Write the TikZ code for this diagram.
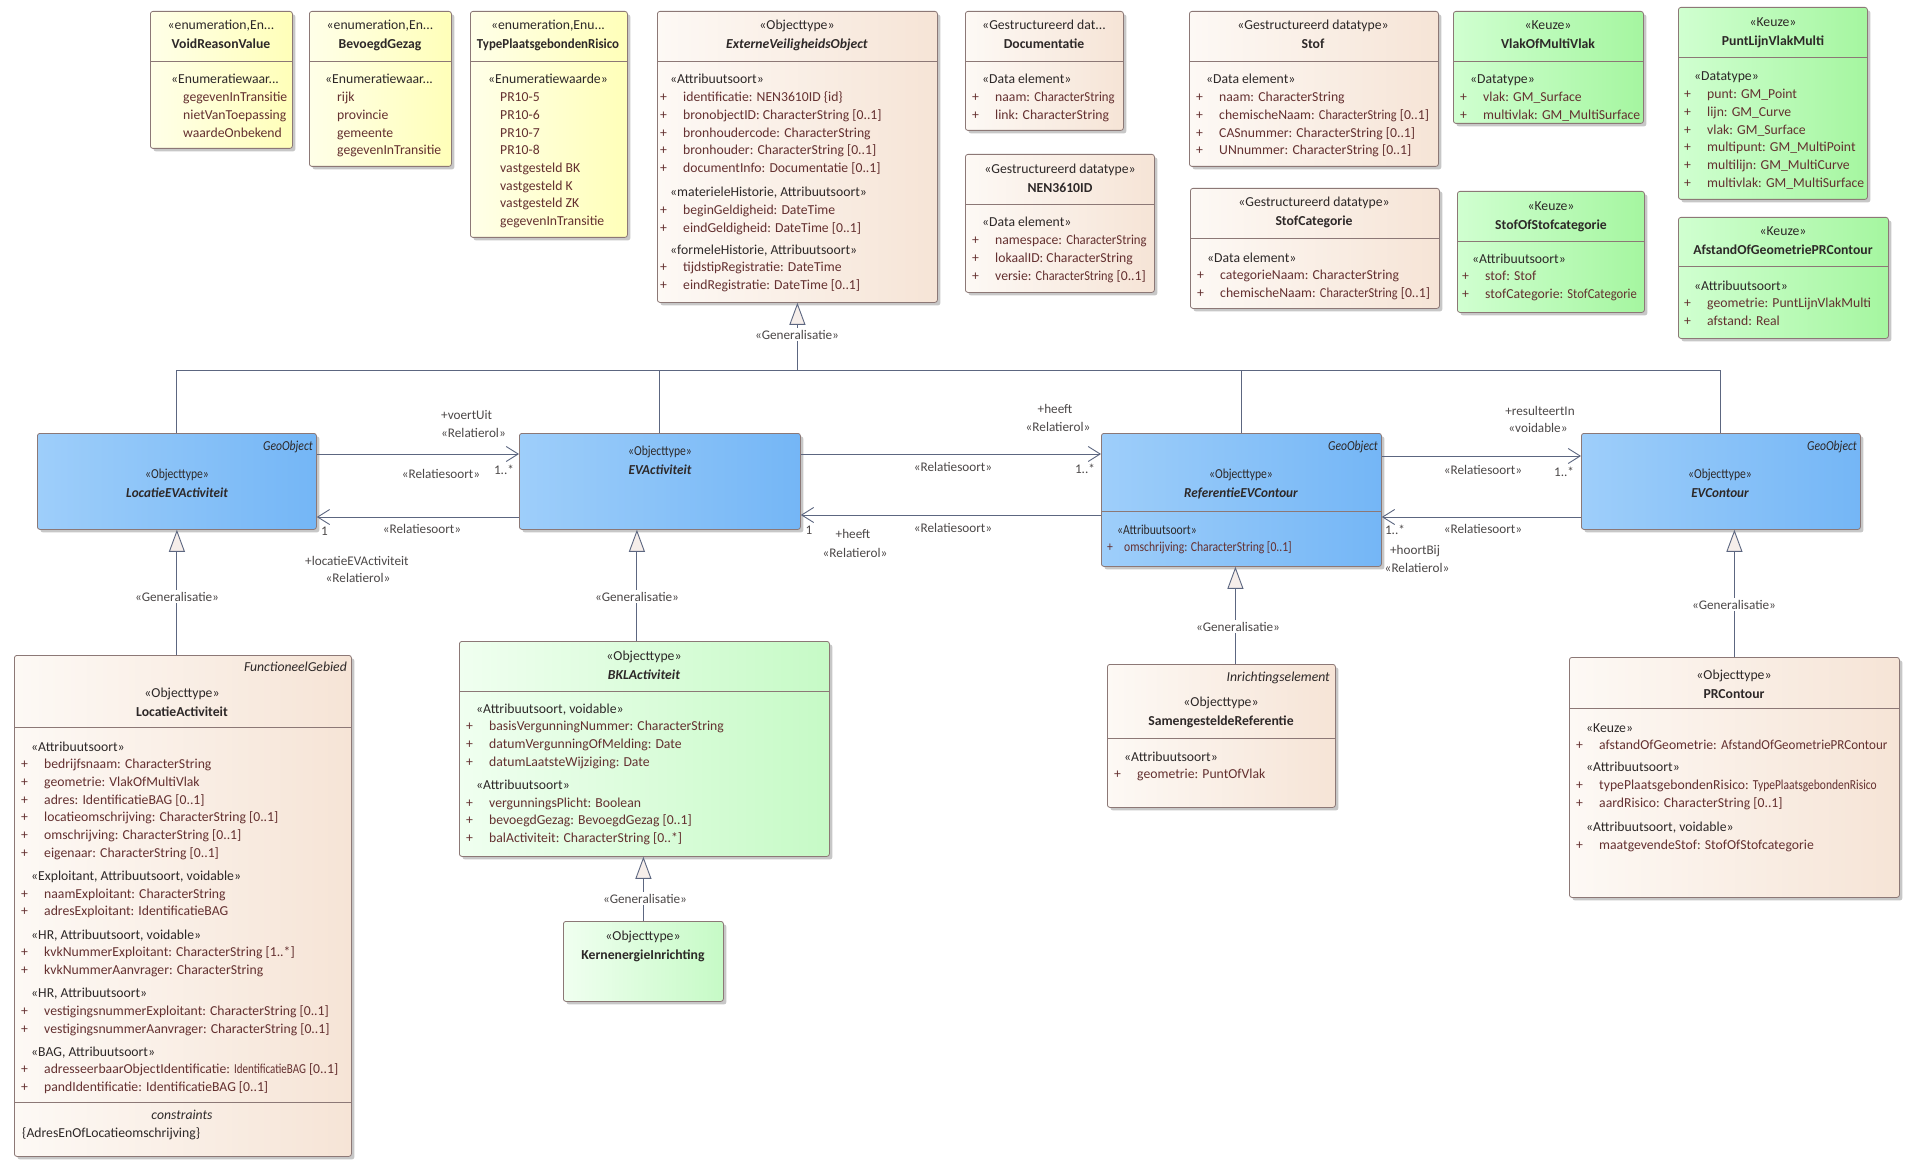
\documentclass[tikz,border=0pt]{standalone}
\usepackage{fontspec}
\setmainfont{Carlito}
\newfontfamily\narrowfont{Carlito}[FakeStretch=0.85]
\newfontfamily\semifont{Carlito}[FakeStretch=0.96]
\usepackage{tikz}
\usetikzlibrary{arrows.meta, positioning, calc, shadows}
\definecolor{umlborder}{RGB}{140,120,118}
\definecolor{umlline}{RGB}{92,102,128}
\definecolor{umltext}{RGB}{45,40,40}
\definecolor{umlattr}{RGB}{100,48,48}
\definecolor{beigeL}{RGB}{253,249,245}
\definecolor{beigeR}{RGB}{246,228,214}
\definecolor{yellowL}{RGB}{255,255,232}
\definecolor{yellowR}{RGB}{255,255,185}
\definecolor{greenL}{RGB}{208,255,208}
\definecolor{greenR}{RGB}{165,246,160}
\definecolor{paleL}{RGB}{240,255,240}
\definecolor{paleR}{RGB}{198,250,198}
\definecolor{blueL}{RGB}{158,206,250}
\definecolor{blueR}{RGB}{116,182,246}
\definecolor{genfill}{RGB}{246,238,234}

\newcommand{\umlfont}{\fontsize{13.7}{17.7}\selectfont}
\newcommand{\lblfont}{\fontsize{13.2}{16}\selectfont}
\newcommand{\classtitle}[2]{\begin{tabular}[t]{@{}c@{}}#1\\[1.3pt]\textbf{#2}\end{tabular}}
\newcommand{\classtitleit}[2]{\begin{tabular}[t]{@{}c@{}}#1\\[1.3pt]\textbf{\itshape #2}\end{tabular}}
\newcommand{\bluetitle}[2]{\begin{tabular}[t]{@{}c@{}}#1\\[1.3pt]{\semifont\bfseries\itshape #2}\end{tabular}}
\newcommand{\compartment}[1]{\begin{tabular}[t]{@{}l@{}}#1\end{tabular}}
\newcommand{\stereo}[1]{\hspace*{10pt}\textcolor{umltext}{#1}}
\newcommand{\attrline}[2][23pt]{\makebox[#1][l]{+}#2}
\newcommand{\enumval}[1]{\hspace*{22pt}#1}
\newcommand{\squeeze}[2]{\scalebox{#1}[1]{#2}}
\newcommand{\umlbox}[6]{\node[#2, minimum width={(#5-#3)*1pt}, minimum height={(#6-#4)*1pt}] (#1) at (#3,#4) {};}
\newcommand{\compsep}[2]{\draw[sepline] (#1.west |- 0,#2) -- (#1.east |- 0,#2);}

\begin{document}
\begin{tikzpicture}[x=1pt, y=-1pt,
    box/.style={draw=umlborder, line width=0.8pt, rounded corners=2.5pt, inner sep=0pt, anchor=north west,
        drop shadow={shadow xshift=3pt, shadow yshift=-3pt, opacity=0.22, fill=black}},
    beige/.style={box, left color=beigeL, right color=beigeR},
    yellow/.style={box, left color=yellowL, right color=yellowR},
    green/.style={box, left color=greenL, right color=greenR},
    pale/.style={box, left color=paleL, right color=paleR},
    blue/.style={box, left color=blueL, right color=blueR},
    sepline/.style={draw=umlborder, line width=0.8pt},
    head/.style={anchor=base, inner sep=0pt, text=umltext, font=\umlfont},
    bluehead/.style={head, font=\umlfont\narrowfont},
    tag/.style={anchor=base east, inner sep=0pt, text=umltext, font=\umlfont\itshape},
    attrs/.style={anchor=base west, inner sep=0pt, text=umlattr, font=\umlfont},
    conn/.style={draw=umlline, line width=0.9pt},
    assoc/.style={conn, -{Straight Barb[length=12pt, width=15pt]}},
    genarrow/.style={conn, -{Triangle[length=22pt, width=16pt, fill=genfill]}},
    lbl/.style={anchor=base, inner sep=0pt, text=umltext!85, font=\lblfont},
    genlbl/.style={lbl, fill=white, inner sep=2pt},
]
    \useasboundingbox (0,0) rectangle (1918,1174);
    \fill[white] (0,0) rectangle (1918,1174);

    % enumerations
    \umlbox{voidreason}{yellow}{150}{11}{292}{148}
    \compsep{voidreason}{61}
    \node[head] (voidreason-h) at (221,30) {\classtitle{«enumeration,En...}{VoidReasonValue}};
    \node[attrs] (voidreason-a) at (161,84) {\compartment{\stereo{«Enumeratiewaar...}\\
        \enumval{gegevenInTransitie}\\ \enumval{nietVanToepassing}\\ \enumval{waardeOnbekend}}};

    \umlbox{bevoegd}{yellow}{309}{11}{451}{166}
    \compsep{bevoegd}{61}
    \node[head] (bevoegd-h) at (380,30) {\classtitle{«enumeration,En...}{BevoegdGezag}};
    \node[attrs] (bevoegd-a) at (315,84) {\compartment{\stereo{«Enumeratiewaar...}\\
        \enumval{rijk}\\ \enumval{provincie}\\ \enumval{gemeente}\\ \enumval{gegevenInTransitie}}};

    \umlbox{typepr}{yellow}{470}{11}{627}{237}
    \compsep{typepr}{61}
    \node[head] (typepr-h) at (548,30) {\classtitle{«enumeration,Enu...}{\squeeze{0.94}{TypePlaatsgebondenRisico}}};
    \node[attrs] (typepr-a) at (478,84) {\compartment{\stereo{«Enumeratiewaarde»}\\
        \enumval{PR10-5}\\ \enumval{PR10-6}\\ \enumval{PR10-7}\\ \enumval{PR10-8}\\
        \enumval{vastgesteld BK}\\ \enumval{vastgesteld K}\\ \enumval{vastgesteld ZK}\\ \enumval{gegevenInTransitie}}};

    % abstract top class
    \umlbox{evo}{beige}{657}{11}{937}{302}
    \compsep{evo}{61}
    \node[head] (evo-h) at (797,30) {\classtitleit{«Objecttype»}{ExterneVeiligheidsObject}};
    \node[attrs] (evo-a) at (660,84) {\compartment{\stereo{«Attribuutsoort»}\\
        \attrline{identificatie: NEN3610ID \{id\}}\\
        \attrline{bronobjectID: CharacterString [0..1]}\\
        \attrline{bronhoudercode: CharacterString}\\
        \attrline{bronhouder: CharacterString [0..1]}\\
        \attrline{documentInfo: Documentatie [0..1]}\\[6.5pt]
        \stereo{«materieleHistorie, Attribuutsoort»}\\
        \attrline{beginGeldigheid: DateTime}\\
        \attrline{eindGeldigheid: DateTime [0..1]}\\[4.5pt]
        \stereo{«formeleHistorie, Attribuutsoort»}\\
        \attrline{tijdstipRegistratie: DateTime}\\
        \attrline{eindRegistratie: DateTime [0..1]}}};

    % datatypes
    \umlbox{docu}{beige}{965}{11}{1123}{130}
    \compsep{docu}{61}
    \node[head] (docu-h) at (1044,30) {\classtitle{«Gestructureerd dat...}{Documentatie}};
    \node[attrs] (docu-a) at (972,84) {\compartment{\stereo{«Data element»}\\
        \attrline{naam: \squeeze{0.93}{CharacterString}}\\ \attrline{link: CharacterString}}};

    \umlbox{nenid}{beige}{965}{154}{1154}{292}
    \compsep{nenid}{204}
    \node[head] (nenid-h) at (1060,174) {\classtitle{«Gestructureerd datatype»}{NEN3610ID}};
    \node[attrs] (nenid-a) at (972,227) {\compartment{\stereo{«Data element»}\\
        \attrline{namespace: \squeeze{0.93}{CharacterString}}\\ \attrline{lokaalID: CharacterString}\\
        \attrline{versie: \squeeze{0.9}{CharacterString} [0..1]}}};

    \umlbox{stof}{beige}{1189}{11}{1438}{166}
    \compsep{stof}{61}
    \node[head] (stof-h) at (1313,30) {\classtitle{«Gestructureerd datatype»}{Stof}};
    \node[attrs] (stof-a) at (1196,84) {\compartment{\stereo{«Data element»}\\
        \attrline{naam: CharacterString}\\ \attrline{chemischeNaam: \squeeze{0.9}{CharacterString} [0..1]}\\
        \attrline{CASnummer: CharacterString [0..1]}\\ \attrline{UNnummer: CharacterString [0..1]}}};

    \umlbox{stofcat}{beige}{1190}{188}{1439}{308}
    \compsep{stofcat}{238}
    \node[head] (stofcat-h) at (1314,207) {\classtitle{«Gestructureerd datatype»}{StofCategorie}};
    \node[attrs] (stofcat-a) at (1197,262) {\compartment{\stereo{«Data element»}\\
        \attrline{categorieNaam: CharacterString}\\ \attrline{chemischeNaam: \squeeze{0.9}{CharacterString} [0..1]}}};

    % keuze types
    \umlbox{vlak}{green}{1453}{11}{1643}{123}
    \compsep{vlak}{61}
    \node[head] (vlak-h) at (1548,30) {\classtitle{«Keuze»}{VlakOfMultiVlak}};
    \node[attrs] (vlak-a) at (1460,84) {\compartment{\stereo{«Datatype»}\\
        \attrline{vlak: GM\_Surface}\\ \attrline{multivlak: GM\_MultiSurface}}};

    \umlbox{stofof}{green}{1457}{191}{1644}{312}
    \compsep{stofof}{241}
    \node[head] (stofof-h) at (1551,211) {\classtitle{«Keuze»}{StofOfStofcategorie}};
    \node[attrs] (stofof-a) at (1462,263) {\compartment{\stereo{«Attribuutsoort»}\\
        \attrline{stof: Stof}\\ \attrline{stofCategorie: \squeeze{0.92}{StofCategorie}}}};

    \umlbox{plvm}{green}{1678}{7}{1867}{199}
    \compsep{plvm}{57}
    \node[head] (plvm-h) at (1773,27) {\classtitle{«Keuze»}{PuntLijnVlakMulti}};
    \node[attrs] (plvm-a) at (1684,81) {\compartment{\stereo{«Datatype»}\\
        \attrline{punt: GM\_Point}\\ \attrline{lijn: GM\_Curve}\\ \attrline{vlak: GM\_Surface}\\
        \attrline{multipunt: GM\_MultiPoint}\\ \attrline{multilijn: GM\_MultiCurve}\\
        \attrline{multivlak: GM\_MultiSurface}}};

    \umlbox{afstand}{green}{1678}{217}{1888}{338}
    \compsep{afstand}{266}
    \node[head] (afstand-h) at (1783,236) {\classtitle{«Keuze»}{AfstandOfGeometriePRContour}};
    \node[attrs] (afstand-a) at (1684,290) {\compartment{\stereo{«Attribuutsoort»}\\
        \attrline{geometrie: PuntLijnVlakMulti}\\ \attrline{afstand: Real}}};

    % middle row
    \umlbox{locev}{blue}{37}{433}{316}{529}
    \node[tag, font=\umlfont\narrowfont\itshape] (locev-t) at (313,450) {GeoObject};
    \node[bluehead] (locev-h) at (177,478) {\bluetitle{«Objecttype»}{LocatieEVActiviteit}};

    \umlbox{evact}{blue}{519}{433}{800}{529}
    \node[bluehead] (evact-h) at (660,455) {\bluetitle{«Objecttype»}{EVActiviteit}};

    \umlbox{refev}{blue}{1101}{433}{1381}{566}
    \compsep{refev}{511}
    \node[tag, font=\umlfont\narrowfont\itshape] (refev-t) at (1378,450) {GeoObject};
    \node[bluehead] (refev-h) at (1241,478) {\bluetitle{«Objecttype»}{ReferentieEVContour}};
    \node[attrs, font=\umlfont\narrowfont] (refev-a) at (1107,534) {\compartment{\stereo{«Attribuutsoort»}\\
        \attrline[17pt]{omschrijving: CharacterString [0..1]}}};

    \umlbox{evcont}{blue}{1581}{433}{1860}{529}
    \node[tag, font=\umlfont\narrowfont\itshape] (evcont-t) at (1857,450) {GeoObject};
    \node[bluehead] (evcont-h) at (1720,478) {\bluetitle{«Objecttype»}{EVContour}};

    % bottom row
    \umlbox{locact}{beige}{14}{655}{351}{1156}
    \compsep{locact}{727}
    \compsep{locact}{1102}
    \node[tag] (locact-t) at (347,671) {FunctioneelGebied};
    \node[head] (locact-h) at (182,697) {\classtitle{«Objecttype»}{LocatieActiviteit}};
    \node[attrs] (locact-a) at (21,751) {\compartment{\stereo{«Attribuutsoort»}\\
        \attrline{bedrijfsnaam: CharacterString}\\
        \attrline{geometrie: VlakOfMultiVlak}\\
        \attrline{adres: IdentificatieBAG [0..1]}\\
        \attrline{locatieomschrijving: CharacterString [0..1]}\\
        \attrline{omschrijving: CharacterString [0..1]}\\
        \attrline{eigenaar: CharacterString [0..1]}\\[5.5pt]
        \stereo{«Exploitant, Attribuutsoort, voidable»}\\
        \attrline{naamExploitant: CharacterString}\\
        \attrline{adresExploitant: IdentificatieBAG}\\[5.5pt]
        \stereo{«HR, Attribuutsoort, voidable»}\\
        \attrline{kvkNummerExploitant: CharacterString [1..*]}\\
        \attrline{kvkNummerAanvrager: CharacterString}\\[5.5pt]
        \stereo{«HR, Attribuutsoort»}\\
        \attrline{vestigingsnummerExploitant: CharacterString [0..1]}\\
        \attrline{vestigingsnummerAanvrager: CharacterString [0..1]}\\[5.5pt]
        \stereo{«BAG, Attribuutsoort»}\\
        \attrline{adresseerbaarObjectIdentificatie: \squeeze{0.8}{IdentificatieBAG} [0..1]}\\
        \attrline{pandIdentificatie: IdentificatieBAG [0..1]}}};
    \node[head, font=\umlfont\itshape] (locact-c) at (182,1119) {constraints};
    \node[attrs, text=umltext] (locact-r) at (22,1137) {\{AdresEnOfLocatieomschrijving\}};

    \umlbox{bkl}{pale}{459}{641}{829}{856}
    \compsep{bkl}{691}
    \node[head] (bkl-h) at (644,660) {\classtitleit{«Objecttype»}{BKLActiviteit}};
    \node[attrs] (bkl-a) at (466,713) {\compartment{\stereo{«Attribuutsoort, voidable»}\\
        \attrline{basisVergunningNummer: CharacterString}\\
        \attrline{datumVergunningOfMelding: Date}\\
        \attrline{datumLaatsteWijziging: Date}\\[5.5pt]
        \stereo{«Attribuutsoort»}\\
        \attrline{vergunningsPlicht: Boolean}\\
        \attrline{bevoegdGezag: BevoegdGezag [0..1]}\\
        \attrline{balActiviteit: CharacterString [0..*]}}};

    \umlbox{kern}{pale}{563}{921}{723}{1001}
    \node[head] (kern-h) at (643,940) {\classtitle{«Objecttype»}{KernenergieInrichting}};

    \umlbox{samref}{beige}{1107}{664}{1335}{807}
    \compsep{samref}{738}
    \node[tag] (samref-t) at (1330,681) {Inrichtingselement};
    \node[head] (samref-h) at (1221,706) {\classtitle{«Objecttype»}{SamengesteldeReferentie}};
    \node[attrs] (samref-a) at (1114,761) {\compartment{\stereo{«Attribuutsoort»}\\
        \attrline{geometrie: PuntOfVlak}}};

    \umlbox{prc}{beige}{1569}{657}{1899}{897}
    \compsep{prc}{708}
    \node[head] (prc-h) at (1734,679) {\classtitle{«Objecttype»}{PRContour}};
    \node[attrs] (prc-a) at (1576,732) {\compartment{\stereo{«Keuze»}\\
        \attrline{afstandOfGeometrie: \squeeze{0.95}{AfstandOfGeometriePRContour}}\\[4.5pt]
        \stereo{«Attribuutsoort»}\\
        \attrline{typePlaatsgebondenRisico: \squeeze{0.84}{TypePlaatsgebondenRisico}}\\
        \attrline{aardRisico: CharacterString [0..1]}\\[6.5pt]
        \stereo{«Attribuutsoort, voidable»}\\
        \attrline{maatgevendeStof: StofOfStofcategorie}}};

    % generalisation tree
    \coordinate (bar) at (0,370);
    \draw[conn] (locev.north) -- (locev.north |- bar) -- (evcont.north |- bar) -- (evcont.north);
    \draw[conn] (evact.north) -- (evact.north |- bar);
    \draw[conn] (refev.north) -- (refev.north |- bar);
    \draw[genarrow] (evo.south |- bar) -- (evo.south);
    \node[genlbl] (gen-evo) at (797,339) {«Generalisatie»};

    \draw[genarrow] (locev.south |- locact.north) -- (locev.south);
    \node[genlbl] (gen-locev) at (177,601) {«Generalisatie»};

    \coordinate (genA) at ([xshift=-23pt]evact.south);
    \draw[genarrow] (bkl.north -| genA) -- (genA);
    \node[genlbl] (gen-evact) at (637,601) {«Generalisatie»};

    \draw[genarrow] (kern.north) -- (kern.north |- bkl.south);
    \node[genlbl] (gen-bkl) at (645,903) {«Generalisatie»};

    \coordinate (genB) at ([xshift=-6pt]refev.south);
    \draw[genarrow] (samref.north -| genB) -- (genB);
    \node[genlbl] (gen-refev) at (1238,631) {«Generalisatie»};

    \draw[genarrow] (prc.north) -- (prc.north |- evcont.south);
    \node[genlbl] (gen-evcont) at (1734,609) {«Generalisatie»};

    % associations
    \draw[assoc] ([yshift=-21pt]locev.north east) -- ([yshift=-21pt]evact.north west);
    \node[lbl, anchor=base west] (voert) at (441,419) {+voertUit};
    \node[lbl, anchor=base west] (voert-r) at (441,437) {«Relatierol»};
    \node[lbl] (voert-s) at (441,478) {«Relatiesoort»};
    \node[lbl] (voert-m) at (504,474) {1..*};

    \draw[assoc] ([yshift=-84pt]evact.north west) -- ([yshift=-84pt]locev.north east);
    \node[lbl, anchor=base west] (loc-m) at (321,535) {1};
    \node[lbl] (loc-s) at (422,533) {«Relatiesoort»};
    \node[lbl, anchor=base west] (loc) at (305,565) {+locatieEVActiviteit};
    \node[lbl] (loc-r) at (358,582) {«Relatierol»};

    \draw[assoc] ([yshift=-21pt]evact.north east) -- ([yshift=-21pt]refev.north west);
    \node[lbl] (heeft) at (1055,413) {+heeft};
    \node[lbl] (heeft-r) at (1058,431) {«Relatierol»};
    \node[lbl] (heeft-s) at (953,471) {«Relatiesoort»};
    \node[lbl] (heeft-m) at (1085,473) {1..*};

    \draw[assoc] ([yshift=-82pt]refev.north west) -- ([yshift=-82pt]evact.north east);
    \node[lbl] (heeft2-m) at (809,534) {1};
    \node[lbl] (heeft2) at (853,538) {+heeft};
    \node[lbl] (heeft2-r) at (855,557) {«Relatierol»};
    \node[lbl] (heeft2-s) at (953,532) {«Relatiesoort»};

    \draw[assoc] ([yshift=-23pt]refev.north east) -- ([yshift=-23pt]evcont.north west);
    \node[lbl] (result) at (1540,415) {+resulteertIn};
    \node[lbl] (result-v) at (1538,432) {«voidable»};
    \node[lbl] (result-s) at (1483,474) {«Relatiesoort»};
    \node[lbl] (result-m) at (1564,476) {1..*};

    \draw[assoc] ([yshift=-84pt]evcont.north west) -- ([yshift=-84pt]refev.north east);
    \node[lbl] (hoort-m) at (1395,534) {1..*};
    \node[lbl] (hoort-s) at (1483,533) {«Relatiesoort»};
    \node[lbl] (hoort) at (1415,554) {+hoortBij};
    \node[lbl] (hoort-r) at (1417,572) {«Relatierol»};
\end{tikzpicture}
\end{document}
